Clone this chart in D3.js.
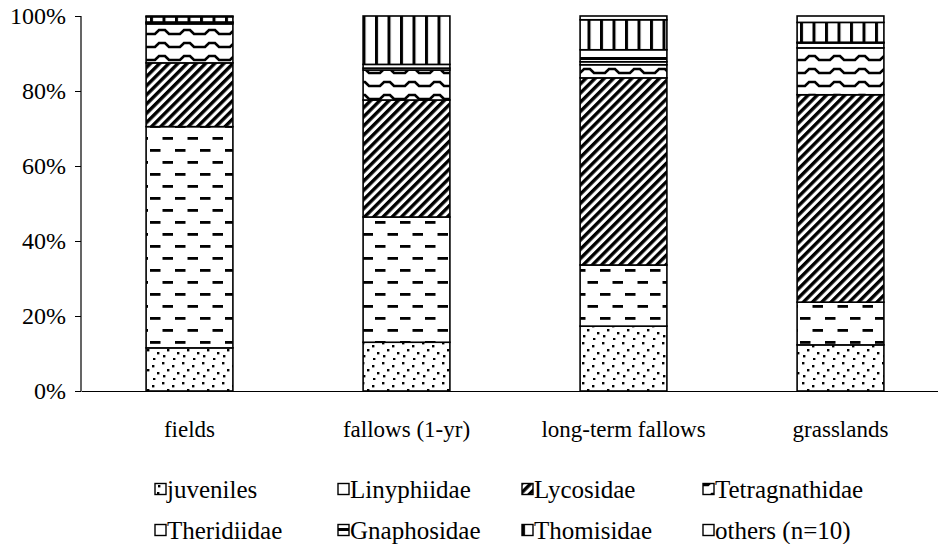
<!DOCTYPE html>
<html>
<head>
<meta charset="utf-8">
<script src="https://cdn.jsdelivr.net/npm/d3@7"></script>
<style>
  body { margin: 0; background: #fff; }
  svg text { font-family: "Liberation Serif", "Times New Roman", serif; fill: #000; }
</style>
</head>
<body>
<div id="chart"></div>
<script>
'use strict';

// categories (x axis)
const categories = ["fields", "fallows (1-yr)", "long-term fallows", "grasslands"];

// series names, bottom to top of each bar
const seriesNames = ["juveniles", "Linyphiidae", "Lycosidae", "Tetragnathidae",
                     "Theridiidae", "Gnaphosidae", "Thomisidae", "others (n=10)"];

// percentage of each series per category
const juveniles      = [11.5, 13.0, 17.3, 12.3];
const linyphiidae    = [59.0, 33.4, 16.3, 11.4];
const lycosidae      = [17.0, 31.2, 49.9, 55.3];
const tetragnathidae = [10.4,  8.0,  3.5, 12.5];
const theridiidae    = [ 0.3,  0.5,  0.8,  1.3];
const gnaphosidae    = [ 0.2,  1.0,  3.2,  0.2];
const thomisidae     = [ 1.4, 12.9,  8.0,  5.3];
const others         = [ 0.2,  0.0,  1.0,  1.7];

const yTicks = [0, 20, 40, 60, 80, 100];

const seriesValues = [juveniles, linyphiidae, lycosidae, tetragnathidae,
                      theridiidae, gnaphosidae, thomisidae, others];

const W = 938, H = 544;
const FONT = '"Liberation Serif", "Times New Roman", serif';
const svg = d3.select('#chart').append('svg').attr('width', W).attr('height', H);
const defs = svg.append('defs');

// --- fill patterns ---
function pattern(id, w, h) {
  const p = defs.append('pattern').attr('id', id)
    .attr('patternUnits', 'userSpaceOnUse').attr('width', w).attr('height', h);
  p.append('rect').attr('width', w).attr('height', h).attr('fill', '#fff');
  return p;
}

// dots
let p = pattern('pDots', 20, 20);
[[2,2],[12,5],[7,9],[17,12],[3,15],[13,18]].forEach(d =>
  p.append('rect').attr('x', d[0]).attr('y', d[1]).attr('width', 2.4).attr('height', 2.4).attr('fill', '#000'));

// horizontal dashes
p = pattern('pDash', 25, 24);
p.append('rect').attr('x', 0).attr('y', 5).attr('width', 10.5).attr('height', 2.8).attr('fill', '#000');
p.append('rect').attr('x', 12.5).attr('y', 17).attr('width', 10.5).attr('height', 2.8).attr('fill', '#000');

// wide upward diagonal
p = defs.append('pattern').attr('id', 'pDiag')
  .attr('patternUnits', 'userSpaceOnUse').attr('width', 6.5).attr('height', 6.5)
  .attr('patternTransform', 'rotate(45)');
p.append('rect').attr('width', 6.5).attr('height', 6.5).attr('fill', '#fff');
p.append('rect').attr('width', 3.4).attr('height', 6.5).attr('fill', '#000');

// wave
p = pattern('pWave', 25, 13);
p.append('path').attr('d', 'M0,8 H5 L9,4 H15 L19,8 H25')
  .attr('fill', 'none').attr('stroke', '#000').attr('stroke-width', 2.6);

// plain white
pattern('pWhite', 4, 4);

// horizontal lines
p = pattern('pHoriz', 8, 12);
p.append('rect').attr('x', 0).attr('y', 9).attr('width', 8).attr('height', 3).attr('fill', '#000');

// vertical lines
p = pattern('pVert', 12.5, 8);
p.append('rect').attr('x', 0).attr('y', 0).attr('width', 3).attr('height', 8).attr('fill', '#000');

const fills = ['pDots', 'pDash', 'pDiag', 'pWave', 'pWhite', 'pHoriz', 'pVert', 'pWhite'];

// --- scales ---
const x = d3.scaleBand().domain(categories).range([81, 949])
  .paddingInner(0.6).paddingOuter(0.3);
const y = d3.scaleLinear().domain([0, 100]).range([391, 16]);

// --- stacked data ---
const table = categories.map((c, i) => {
  const row = { cat: c };
  seriesNames.forEach((s, j) => row[s] = seriesValues[j][i]);
  return row;
});
const stacked = d3.stack().keys(seriesNames)(table);

// bars
svg.append('g').selectAll('g').data(stacked).join('g')
  .attr('fill', (d, i) => 'url(#' + fills[i] + ')')
  .selectAll('rect').data(d => d).join('rect')
  .attr('x', d => x(d.data.cat))
  .attr('y', d => y(d[1]))
  .attr('width', x.bandwidth())
  .attr('height', d => y(d[0]) - y(d[1]))
  .attr('stroke', '#000')
  .attr('stroke-width', 1.6);

// y axis
const yAxis = svg.append('g').attr('transform', 'translate(81,0)')
  .call(d3.axisLeft(y).tickValues(yTicks).tickSize(6).tickPadding(9).tickFormat(d => d + '%'));
yAxis.select('.domain').attr('stroke', '#000').attr('stroke-width', 1.2).attr('d', 'M-6,16.5H0V391');
yAxis.selectAll('.tick line').attr('stroke', '#000');
yAxis.selectAll('text').style('font-family', FONT).attr('font-size', 24).attr('dy', '0.3em');

// x axis
const xAxis = svg.append('g').attr('transform', 'translate(0,391)')
  .call(d3.axisBottom(x).tickSize(0).tickPadding(0));
xAxis.select('.domain').attr('stroke', '#000').attr('stroke-width', 1.2);
xAxis.selectAll('text').style('font-family', FONT).attr('font-size', 23)
  .attr('y', 46).attr('dy', 0);

// legend
const legX = [155, 338, 522, 703];
const legY = [490, 531];
const leg = svg.append('g').selectAll('g').data(seriesNames).join('g')
  .attr('transform', (d, i) => 'translate(' + legX[i % 4] + ',' + legY[Math.floor(i / 4)] + ')');
leg.append('rect').attr('x', 0).attr('y', -6.5).attr('width', 11).attr('height', 11)
  .attr('fill', (d, i) => 'url(#' + fills[i] + ')')
  .attr('stroke', '#000').attr('stroke-width', 1.4);
leg.append('text').attr('x', 12).attr('y', 7.5).attr('font-size', 25)
  .style('font-family', FONT).text(d => d);
</script>
</body>
</html>
